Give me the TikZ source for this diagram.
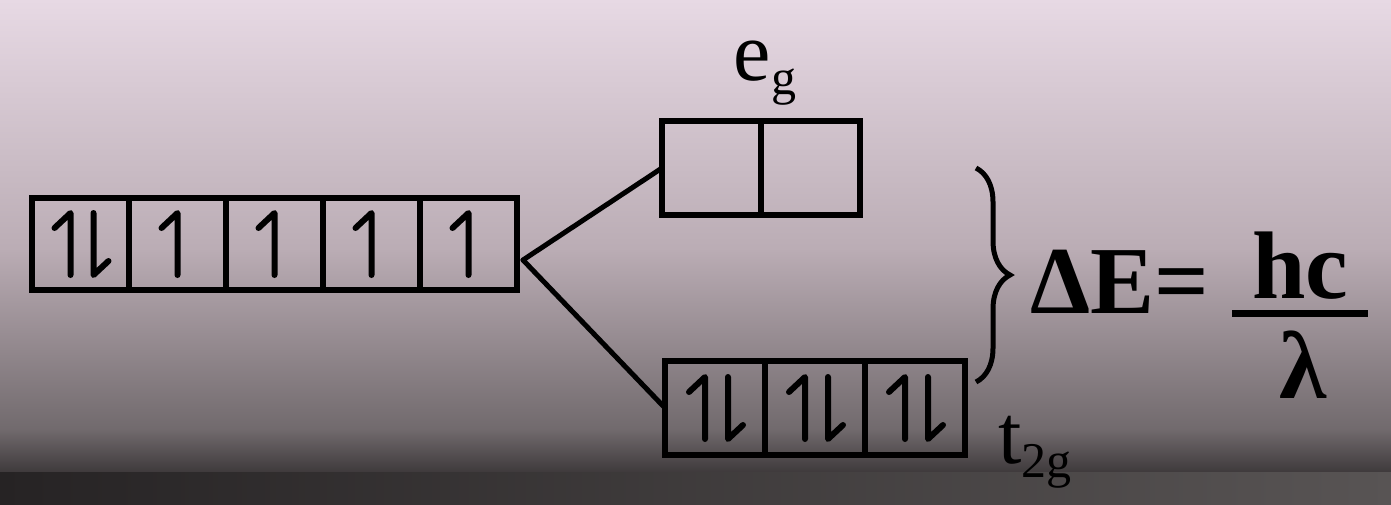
\documentclass[tikz,border=0pt]{standalone}
\usepackage{fontspec}
\setmainfont{Liberation Serif}
\usetikzlibrary{positioning,calc,decorations.pathreplacing}

\definecolor{bgtop}{RGB}{231,217,228}
\definecolor{bgmid}{RGB}{186,172,180}
\definecolor{bglow}{RGB}{112,105,108}
\definecolor{bgdark}{RGB}{38,35,36}
\definecolor{bgdarkr}{RGB}{88,84,84}

\newcommand{\lowsub}[1]{\raisebox{-14pt}{\fontsize{50}{50}\selectfont #1}}

\begin{document}
\begin{tikzpicture}[
  x=1pt,y=-1pt,
  cell/.style={draw,line width=6pt,minimum width=97pt,minimum height=92pt,
               inner sep=0pt,outer sep=0pt},
  egcell/.style={cell,minimum width=99pt,minimum height=94pt},
  tcell/.style={cell,minimum width=100pt,minimum height=94pt},
  spin/.style={line width=6pt,line cap=round,line join=round},
  link/.style={line width=5pt,line cap=round},
  brc/.style={decorate,decoration={brace,amplitude=34pt},line width=5pt},
  lbl/.style={inner sep=0pt,font=\fontsize{84}{90}\selectfont},
  eqn/.style={inner sep=0pt,font=\fontsize{96}{100}\selectfont\bfseries},
  pics/spinup/.style={code={\draw[spin] (0,31) -- (0,-31) -- (-16,-16);}},
  pics/pair/.style={code={
    \draw[spin] (-10,31) -- (-10,-31) -- (-26,-16);
    \draw[spin] (13,-31) -- (13,31) -- (28,17);}},
]
  % photo background
  \shade[top color=bgtop,bottom color=bgmid] (0,0) rectangle (1391,252);
  \shade[top color=bgmid,bottom color=bglow] (0,250) rectangle (1391,432);
  \shade[top color=bglow,bottom color=bgdark!70!bglow] (0,430) rectangle (1391,474);
  \shade[left color=bgdark,right color=bgdarkr] (0,472) rectangle (1391,504);
  \useasboundingbox (0,0) rectangle (1391,504);

  % free ion d orbitals
  \node[cell] (d1) at (80.5,244) {};
  \node[cell,right=0pt of d1] (d2) {};
  \node[cell,right=0pt of d2] (d3) {};
  \node[cell,right=0pt of d3] (d4) {};
  \node[cell,right=0pt of d4] (d5) {};
  \pic at (d1.center) {pair};
  \pic at (d2.center) {spinup};
  \pic at (d3.center) {spinup};
  \pic at (d4.center) {spinup};
  \pic at (d5.center) {spinup};

  % e_g set
  \node[egcell] (eg1) at (711.5,168) {};
  \node[egcell,right=0pt of eg1] (eg2) {};
  \node[lbl,anchor=base] (eglbl) at ($(eg1.north east)+(4,-41)$) {e\lowsub{g}};

  % t_2g set
  \node[tcell] (t1) at (715,408) {};
  \node[tcell,right=0pt of t1] (t2) {};
  \node[tcell,right=0pt of t2] (t3) {};
  \pic at (t1.center) {pair};
  \pic at (t2.center) {pair};
  \pic at (t3.center) {pair};
  \node[lbl,anchor=base west] (tlbl) at ($(t3.east)+(33,55)$) {t\lowsub{2g}};

  % splitting
  \coordinate (split) at ($(d5.east)+(6,16)$);
  \draw[link] (split) -- (eg1.west);
  \draw[link] (split) -- (t1.west);

  \coordinate (btop) at (976,168);
  \coordinate (bbot) at (976,382);
  \draw[brc] (btop) -- (bbot);

  \node[eqn,anchor=base west] (de) at (1030,313) {ΔE=};
  \node[eqn,anchor=base] (hc) at (1300,298) {hc};
  \node[eqn,anchor=base] (lam) at (1303,398) {λ};
  \draw[line width=7pt] ([shift={(-68,14)}]hc.south) -- ([shift={(68,14)}]hc.south);
\end{tikzpicture}
\end{document}
